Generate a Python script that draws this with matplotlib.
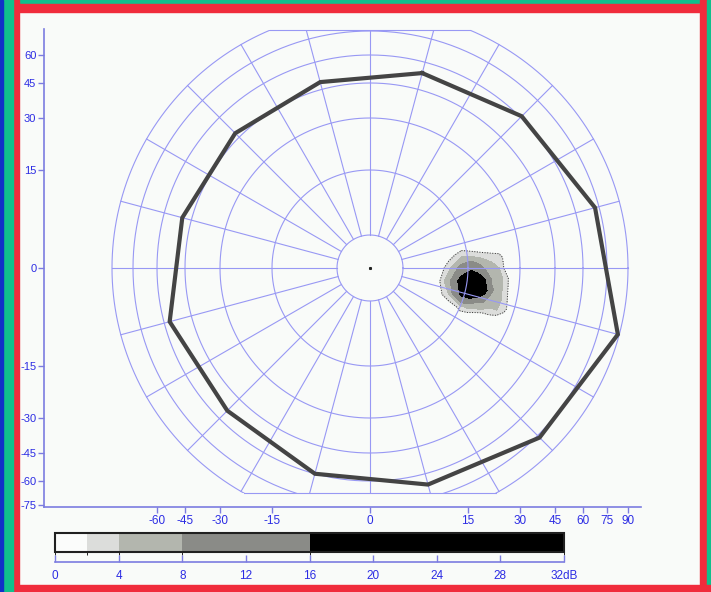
import numpy as np
import matplotlib
matplotlib.use("Agg")
import matplotlib.pyplot as plt
from matplotlib.colors import ListedColormap, BoundaryNorm
from matplotlib.patches import Rectangle
import matplotlib.cm as cm

plt.rcParams['font.family'] = ['Liberation Sans', 'DejaVu Sans']

# radial scale of the chart: eccentricity (deg) -> plot radius
ecc_ref = [0, 5, 15, 30, 45, 60, 75, 90]
rad_ref = [0, 33, 98, 150, 185, 213, 237, 258]

grid_circles = [5, 15, 30, 45, 60, 75, 90]
meridians = list(range(0, 360, 15))

# isopter (meridian angle in deg, eccentricity in deg)
iso_angle = [75, 45, 15, -15, -45, -75, -105, -135, -165, 165, 135, 105]
iso_ecc = [54, 61, 72.5, 89, 77, 67, 60, 54, 57, 50, 48, 49]

# fixation point
fix_x = [0]
fix_y = [0]

# scotoma depth in dB on a small field grid (deg)
scot_x = [10, 12, 14, 16, 18, 20, 22, 24, 26, 28]
scot_y = [4, 2, 0, -2, -4, -6, -8, -10]
scot_db = [
    [0, 0, 0, 0, 0, 0, 0, 0, 0, 0],
    [0, 1, 3, 3, 3, 3, 3, 3, 1, 0],
    [0, 3, 10, 14, 11, 7, 5, 4, 1, 0],
    [0, 6, 20, 24, 22, 16, 7, 5, 3, 0],
    [0, 4, 18, 24, 24, 20, 9, 5, 3, 0],
    [0, 0, 3, 6, 7, 8, 6, 5, 3, 0],
    [0, 0, 0, 0, 1, 2, 3, 4, 3, 0],
    [0, 0, 0, 0, 0, 0, 0, 0, 0, 0],
]

levels = [0, 2, 4, 8, 16, 32]
level_colors = ['#fbfcfb', '#dcdddb', '#b3b6ae', '#8a8b87', '#000000']

xticks_deg = [-60, -45, -30, -15, 0, 15, 30, 45, 60, 75, 90]
yticks_deg = [-75, -60, -45, -30, -15, 0, 15, 30, 45, 60]
cbar_ticks = [0, 4, 8, 12, 16, 20, 24, 28, 32]

grid_col = '#9898f4'
axis_col = '#7c7ce0'
text_col = '#2c2ce4'
bg = '#f9fbf9'


def rad(e):
    return np.sign(e) * np.interp(np.abs(e), ecc_ref, rad_ref)


def proj_polar(ang, e):
    a = np.radians(ang)
    r = rad(np.asarray(e, dtype=float))
    return r * np.cos(a), r * np.sin(a)


def proj_xy(x, y):
    x = np.asarray(x, dtype=float)
    y = np.asarray(y, dtype=float)
    return proj_polar(np.degrees(np.arctan2(y, x)), np.hypot(x, y))


fig = plt.figure(figsize=(7.11, 5.92), dpi=100)
fig.patch.set_facecolor(bg)
W, H = 711, 592

# window frame stripes
def stripe(x0, y0, w, h, c):
    fig.patches.append(Rectangle((x0 / W, 1 - (y0 + h) / H), w / W, h / H,
                                 transform=fig.transFigure, color=c, zorder=-5))

stripe(0, 0, 711, 4, '#10c08c')
stripe(0, 4, 711, 8, '#f02c3c')
stripe(700, 0, 7, 592, '#f02c3c')
stripe(707, 0, 4, 592, '#10c08c')
stripe(0, 585, 711, 7, '#f02c3c')
stripe(13, 0, 6, 592, '#f02c3c')
stripe(3, 0, 10, 592, '#10c08c')
stripe(0, 0, 3, 592, '#1030c8')

ax = fig.add_axes([44 / W, 1 - 507 / H, 597 / W, 478 / H])
ax.set_facecolor(bg)
ax.set_xlim(-326, 271)
ax.set_ylim(-239, 239)

clip = Rectangle((-300, -225), 600, 463, transform=ax.transData)

# scotoma
SX, SY = np.meshgrid(scot_x, scot_y)
PX, PY = proj_xy(SX, SY)
ax.contourf(PX, PY, np.array(scot_db), levels=levels[1:],
            colors=level_colors[1:], zorder=1)
ax.contour(PX, PY, np.array(scot_db), levels=[2], colors='#303030',
           linewidths=0.7, linestyles=':', zorder=1)

# grid circles
t = np.linspace(0, 360, 721)
for e in grid_circles:
    cx, cy = proj_polar(t, np.full_like(t, e))
    ln, = ax.plot(cx, cy, color=grid_col, lw=0.8, zorder=2)
    ln.set_clip_path(clip)

# meridians
for m in meridians:
    mx, my = proj_polar([m, m], [grid_circles[0], grid_circles[-1]])
    ln, = ax.plot(mx, my, color=grid_col, lw=0.8, zorder=2)
    ln.set_clip_path(clip)

# chords where the grid is cut
rmax = rad(grid_circles[-1])
for yc in (-225, 238):
    half = np.sqrt(rmax ** 2 - yc ** 2)
    ax.plot([-half, half], [yc, yc], color=grid_col, lw=0.8, zorder=2)

# isopter
ix, iy = proj_polar(iso_angle + iso_angle[:1], iso_ecc + iso_ecc[:1])
ax.plot(ix, iy, color='#444444', lw=3.0, solid_joinstyle='miter', zorder=3)

fx, fy = proj_xy(fix_x, fix_y)
ax.plot(fx, fy, marker='s', ms=1.2, color='#222222', lw=0, zorder=4)

for s in ['top', 'right']:
    ax.spines[s].set_visible(False)
for s in ['left', 'bottom']:
    ax.spines[s].set_color(axis_col)
    ax.spines[s].set_linewidth(1.2)

ax.set_xticks(rad(np.array(xticks_deg)))
ax.set_xticklabels([str(v) for v in xticks_deg])
ax.set_yticks(rad(np.array(yticks_deg)))
ax.set_yticklabels([str(v) for v in yticks_deg])
ax.tick_params(colors=axis_col, labelcolor=text_col, labelsize=8.5, length=4,
               width=1, pad=2)
ax.tick_params(axis='y', labelsize=8, pad=1.5)

# colour bar
cax = fig.add_axes([55 / W, 1 - 552 / H, 509 / W, 19 / H])
sm = cm.ScalarMappable(norm=BoundaryNorm(levels, len(level_colors)),
                       cmap=ListedColormap(level_colors))
cb = fig.colorbar(sm, cax=cax, orientation='horizontal', spacing='proportional')
cb.set_ticks([])
cb.outline.set_edgecolor('#202020')
cb.outline.set_linewidth(1.5)

sax = fig.add_axes([55 / W, 1 - 562 / H, 509 / W, 0.001])
sax.set_facecolor('none')
sax.set_xlim(0, 32)
sax.set_yticks([])
for s in ['top', 'right', 'left']:
    sax.spines[s].set_visible(False)
sax.spines['bottom'].set_color(axis_col)
sax.spines['bottom'].set_linewidth(1.2)
sax.set_xticks(cbar_ticks)
sax.set_xticklabels([str(v) for v in cbar_ticks[:-1]] + ['32dB'])
sax.tick_params(axis='x', direction='in', colors=axis_col, labelcolor=text_col,
                labelsize=8.5, length=5, width=1, pad=6)

fig.savefig('out.png', dpi=100, facecolor=bg)
